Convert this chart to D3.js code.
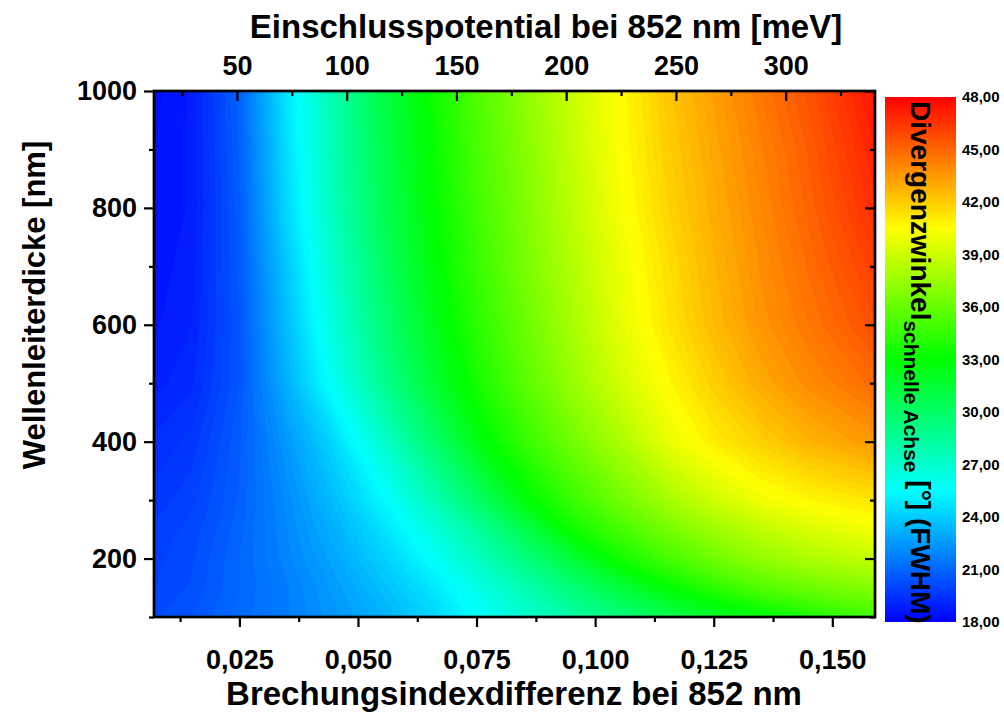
<!DOCTYPE html>
<html>
<head>
<meta charset="utf-8">
<script src="https://cdn.jsdelivr.net/npm/d3@7"></script>
<style>
  body { margin: 0; background: #fff; }
  svg { display: block; font-family: "Liberation Sans", Arial, sans-serif; font-weight: bold; }
</style>
</head>
<body>
<div id="chart"></div>
<script>
// refractive index difference (columns) and waveguide thickness in nm (rows)
const indexDiff = [0.007, 0.015, 0.025, 0.035, 0.045, 0.055, 0.065, 0.075,
                   0.085, 0.095, 0.105, 0.115, 0.125, 0.135, 0.145, 0.159];
const thickness = [100, 150, 200, 250, 300, 400, 500, 600, 700, 800, 900, 1000];

// divergence angle fast axis [deg] FWHM, one row per thickness
const divergence = [
  [20.2, 20.5, 21.1, 21.7, 22.4, 23.2, 24.2, 25.5, 26.8, 28.1, 29.4, 30.6, 31.7, 32.7, 33.7, 35.0],
  [20.0, 20.3, 21.0, 21.7, 22.6, 23.6, 24.7, 26.2, 27.8, 29.5, 31.2, 32.9, 34.3, 35.4, 36.2, 36.9],
  [19.9, 20.2, 21.0, 21.9, 22.9, 24.1, 25.5, 27.3, 29.3, 31.4, 33.5, 35.0, 36.3, 37.3, 38.1, 38.8],
  [19.8, 20.1, 20.9, 22.0, 23.2, 24.6, 26.3, 28.4, 30.8, 33.4, 35.0, 36.4, 37.6, 38.6, 39.4, 40.2],
  [19.6, 19.9, 20.8, 22.1, 23.6, 25.3, 27.5, 30.0, 32.7, 34.6, 36.3, 37.8, 39.1, 40.1, 40.7, 41.3],
  [19.3, 19.6, 20.7, 22.5, 24.4, 26.9, 29.6, 32.4, 34.5, 36.3, 38.0, 39.8, 41.0, 41.9, 42.7, 43.5],
  [18.9, 19.2, 20.5, 23.2, 25.9, 28.7, 31.3, 33.6, 35.6, 37.4, 39.1, 40.6, 41.9, 43.0, 43.9, 44.9],
  [18.7, 19.0, 20.5, 23.6, 26.6, 29.5, 32.0, 34.2, 36.1, 37.9, 39.7, 41.2, 42.5, 43.6, 44.5, 45.7],
  [18.6, 18.9, 20.6, 23.9, 27.1, 30.0, 32.5, 34.6, 36.5, 38.2, 39.9, 41.4, 42.7, 43.8, 44.8, 46.2],
  [18.5, 18.8, 20.7, 24.4, 27.6, 30.5, 32.8, 34.9, 36.7, 38.5, 40.2, 41.7, 42.9, 44.0, 45.1, 46.7],
  [18.5, 18.8, 20.8, 24.6, 27.8, 30.7, 33.0, 35.1, 36.9, 38.7, 40.4, 41.9, 43.1, 44.2, 45.3, 47.0],
  [18.4, 18.8, 20.9, 24.8, 28.0, 30.9, 33.2, 35.3, 37.1, 38.9, 40.5, 42.1, 43.3, 44.5, 45.6, 47.4]
];

const dnTicks = [0.025, 0.05, 0.075, 0.1, 0.125, 0.15];
const dnMinor = [0.0125, 0.0375, 0.0625, 0.0875, 0.1125, 0.1375];
const meVTicks = [50, 100, 150, 200, 250, 300];
const meVMinor = [25, 75, 125, 175, 225, 275, 325];
const dTicks = [200, 400, 600, 800, 1000];
const dMinor = [100, 300, 500, 700, 900];
const barTicks = [18, 21, 24, 27, 30, 33, 36, 39, 42, 45, 48];
const paletteStops = [18, 25.5, 33, 40.5, 48];
const paletteColors = ["#0000ff", "#00ffff", "#00ff00", "#ffff00", "#ff0000"];

const W = 1004, H = 715;
const plotL = 154, plotR = 875, plotT = 91, plotB = 617;

const svg = d3.select("#chart").append("svg")
  .attr("width", W)
  .attr("height", H);

const x = d3.scaleLinear().domain([0.007, 0.159]).range([plotL, plotR]);
const xTop = d3.scaleLinear().domain([12.2, 340.7]).range([plotL, plotR]);
const y = d3.scaleLinear().domain([100, 1000]).range([plotB, plotT]);
const color = d3.scaleLinear().domain(paletteStops).range(paletteColors).clamp(true);

// grid index -> data value (piecewise, the grid is not evenly spaced)
const nx = indexDiff.length, ny = thickness.length;
const colToDn = d3.scaleLinear().domain(d3.range(nx)).range(indexDiff).clamp(true);
const rowToD = d3.scaleLinear().domain(d3.range(ny)).range(thickness).clamp(true);

const step = 0.25;
const thresholds = d3.range(17.75, 48.01, step);
const contours = d3.contours()
  .size([nx, ny])
  .thresholds(thresholds)(divergence.flat());

const proj = d3.geoTransform({
  point: function (px, py) {
    this.stream.point(x(colToDn(px - 0.5)), y(rowToD(py - 0.5)));
  }
});
const path = d3.geoPath(proj);

svg.append("g")
  .selectAll("path")
  .data(contours)
  .enter()
  .append("path")
  .attr("d", path)
  .attr("fill", (d) => color(d.value + step / 2))
  .attr("stroke", "none");

// frame
svg.append("rect")
  .attr("x", plotL)
  .attr("y", plotT)
  .attr("width", plotR - plotL)
  .attr("height", plotB - plotT)
  .attr("fill", "none")
  .attr("stroke", "#000")
  .attr("stroke-width", 2.7);

const fmtDn = (d) => d3.format(".3f")(d).replace(".", ",");

function styleAxis(g, size) {
  g.select(".domain").remove();
  g.selectAll(".tick line").attr("stroke", "#000").attr("stroke-width", 2.2);
  g.selectAll(".tick text")
    .attr("fill", "#000")
    .attr("font-size", size)
    .attr("font-family", '"Liberation Sans", Arial, sans-serif')
    .attr("font-weight", "bold");
}

// bottom axis
svg.append("g")
  .attr("transform", `translate(0,${plotB})`)
  .call(d3.axisBottom(x).tickValues(dnTicks).tickSize(10).tickPadding(23).tickFormat(fmtDn))
  .call((g) => styleAxis(g, 27));
svg.append("g")
  .attr("transform", `translate(0,${plotB})`)
  .call(d3.axisBottom(x).tickValues(dnMinor).tickSize(5).tickFormat(""))
  .call((g) => styleAxis(g, 27));

// top axis, ticks pointing in
svg.append("g")
  .attr("transform", `translate(0,${plotT})`)
  .call(d3.axisTop(xTop).tickValues(meVTicks).tickSize(-10).tickPadding(16))
  .call((g) => styleAxis(g, 27));
svg.append("g")
  .attr("transform", `translate(0,${plotT})`)
  .call(d3.axisTop(xTop).tickValues(meVMinor).tickSize(-5).tickFormat(""))
  .call((g) => styleAxis(g, 27));

// left axis
svg.append("g")
  .attr("transform", `translate(${plotL},0)`)
  .call(d3.axisLeft(y).tickValues(dTicks).tickSize(10).tickPadding(7).tickFormat(d3.format("d")))
  .call((g) => styleAxis(g, 27));
svg.append("g")
  .attr("transform", `translate(${plotL},0)`)
  .call(d3.axisLeft(y).tickValues(dMinor).tickSize(5).tickFormat(""))
  .call((g) => styleAxis(g, 27));

// right axis, ticks pointing in
svg.append("g")
  .attr("transform", `translate(${plotR},0)`)
  .call(d3.axisRight(y).tickValues(dTicks).tickSize(-10).tickFormat(""))
  .call((g) => styleAxis(g, 27));
svg.append("g")
  .attr("transform", `translate(${plotR},0)`)
  .call(d3.axisRight(y).tickValues(dMinor).tickSize(-5).tickFormat(""))
  .call((g) => styleAxis(g, 27));

// axis titles
svg.append("text")
  .attr("x", 546).attr("y", 38)
  .attr("text-anchor", "middle")
  .attr("font-size", 33)
  .text("Einschlusspotential bei 852 nm [meV]");

svg.append("text")
  .attr("x", 514).attr("y", 705)
  .attr("text-anchor", "middle")
  .attr("font-size", 33)
  .text("Brechungsindexdifferenz bei 852 nm");

svg.append("text")
  .attr("transform", "translate(45,305) rotate(-90)")
  .attr("text-anchor", "middle")
  .attr("font-size", 31)
  .text("Wellenleiterdicke [nm]");

// colour bar
const barY = d3.scaleLinear().domain([18, 48]).range([622, 97]);
const grad = svg.append("defs").append("linearGradient")
  .attr("id", "barGradient")
  .attr("x1", "0%").attr("y1", "100%")
  .attr("x2", "0%").attr("y2", "0%");
grad.selectAll("stop")
  .data(paletteStops)
  .enter()
  .append("stop")
  .attr("offset", (d) => ((d - 18) / 30) * 100 + "%")
  .attr("stop-color", (d) => color(d));

svg.append("rect")
  .attr("x", 885)
  .attr("y", barY(48))
  .attr("width", 71)
  .attr("height", barY(18) - barY(48))
  .attr("fill", "url(#barGradient)");

svg.append("g")
  .selectAll("text")
  .data(barTicks)
  .enter()
  .append("text")
  .attr("x", 962)
  .attr("y", (d) => barY(d))
  .attr("dy", "0.35em")
  .attr("font-size", 15)
  .text((d) => d3.format(".2f")(d).replace(".", ","));

const barTitle = svg.append("text")
  .attr("transform", "translate(911,101) rotate(90)")
  .attr("font-size", 28);
barTitle.append("tspan").text("Divergenzwinkel");
barTitle.append("tspan").attr("dy", 7).attr("font-size", 21).text("schnelle Achse");
barTitle.append("tspan").attr("dy", -7).text(" [°] (FWHM)");
</script>
</body>
</html>
